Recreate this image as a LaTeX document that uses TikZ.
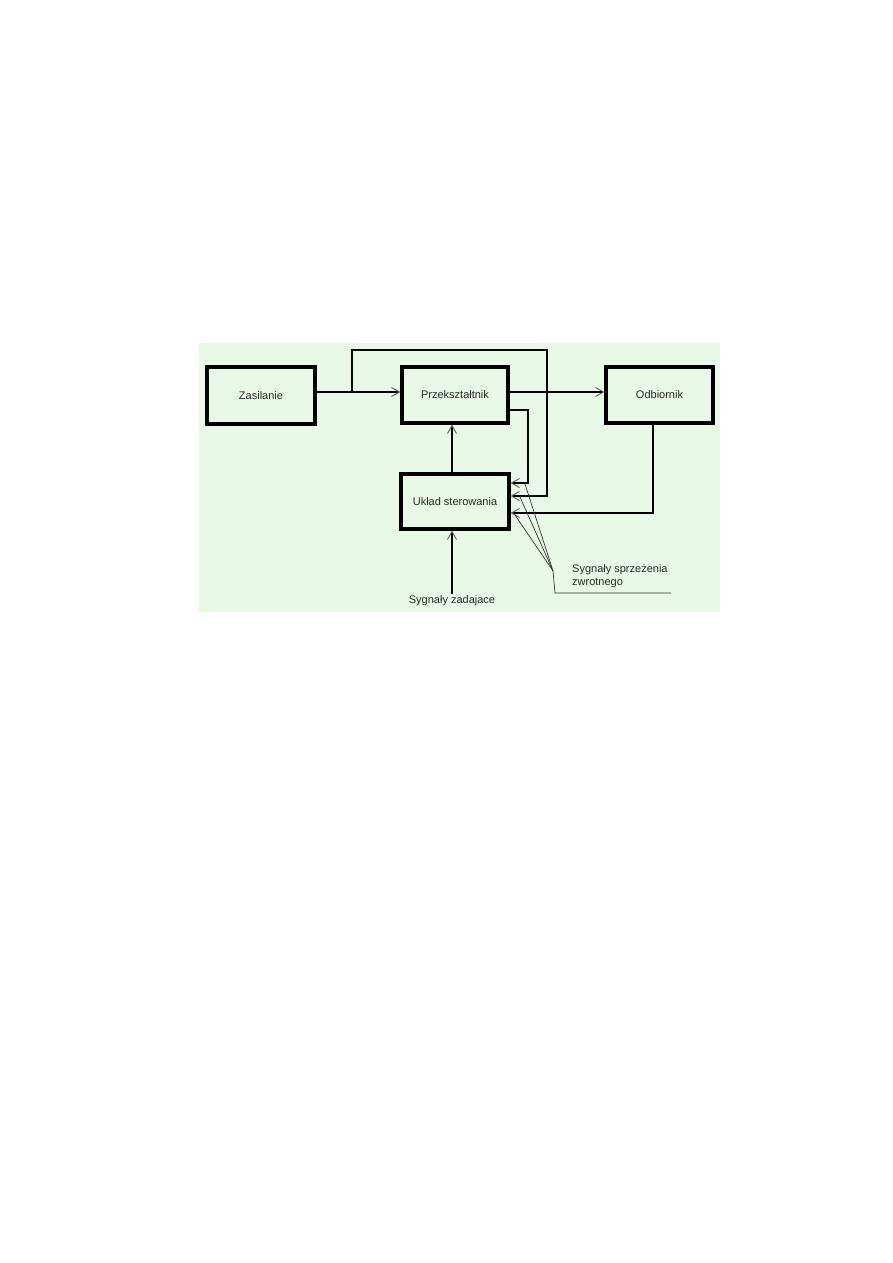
\documentclass[tikz,border=0pt]{standalone}
\usepackage{fontspec}
\setmainfont{Liberation Sans}
\usetikzlibrary{arrows.meta}
\definecolor{bggreen}{RGB}{232,249,232}
\definecolor{txt}{RGB}{40,40,40}
\tikzset{
  blk/.style={draw=black, line width=3.2pt, rectangle, inner sep=0pt, text=txt,
    font=\fontsize{11}{13}\selectfont},
  sig/.style={line width=1.8pt, draw=black,
    -{Straight Barb[length=8pt,width=9pt,line width=0.9pt,color=black!65]}},
  thin/.style={line width=0.7pt, draw=black!80},
  lbl/.style={text=txt, font=\fontsize{11}{13}\selectfont, inner sep=0pt}
}
\begin{document}
\begin{tikzpicture}[x=1pt,y=-1pt]
\useasboundingbox (0,0) rectangle (893,1263);
\fill[bggreen] (199,343) rectangle (720,612);
% blocks
\node[blk, minimum width=108pt, minimum height=57pt] (zas) at (261,395.5) {Zasilanie};
\node[blk, minimum width=106pt, minimum height=56pt] (prz) at (455,395) {Przekształtnik};
\node[blk, minimum width=107pt, minimum height=56pt] (odb) at (659.5,395) {Odbiornik};
\node[blk, minimum width=108pt, minimum height=55pt] (ukl) at (455,501.5) {Układ sterowania};
% coordinates
\coordinate (br) at (352,392);
\coordinate (c1) at (352,350);
\coordinate (c2) at (547,350);
\coordinate (c3) at (547,496);
\coordinate (p1) at (528,410);
\coordinate (p2) at (528,483);
\coordinate (o1) at (653,513);
\coordinate (conv) at (553,571);
\coordinate (cv) at (555,593);
\coordinate (ce) at (671,593);
\coordinate (a1) at (525,484);
\coordinate (a2) at (520,497);
\coordinate (a3) at (515,515);
\coordinate (zb) at (452,594);
\node[lbl] (zad) at (452,601) {Sygnały zadajace};
\node[lbl, anchor=west, align=left] (spr) at (572,576) {Sygnały sprzeżenia\\zwrotnego};
% connectors
\draw[sig] (zas.east |- br) -- (prz.west |- br);
\draw[sig] (br) -- (c1) -- (c2) -- (c3) -- (ukl.east |- c3);
\draw[sig] (prz.east |- br) -- (odb.west |- br);
\draw[sig] (prz.east |- p1) -- (p1) -- (p2) -- (ukl.east |- p2);
\draw[sig] (odb.south -| o1) -- (o1) -- (ukl.east |- o1);
\draw[sig] (ukl.north -| zb) -- (prz.south -| zb);
\draw[sig] (zb) -- (ukl.south -| zb);
% feedback label pointers
\draw[thin] (a1) -- (conv);
\draw[thin] (a2) -- (conv);
\draw[thin] (a3) -- (conv);
\draw[thin] (conv) -- (cv) -- (ce);
\end{tikzpicture}
\end{document}
